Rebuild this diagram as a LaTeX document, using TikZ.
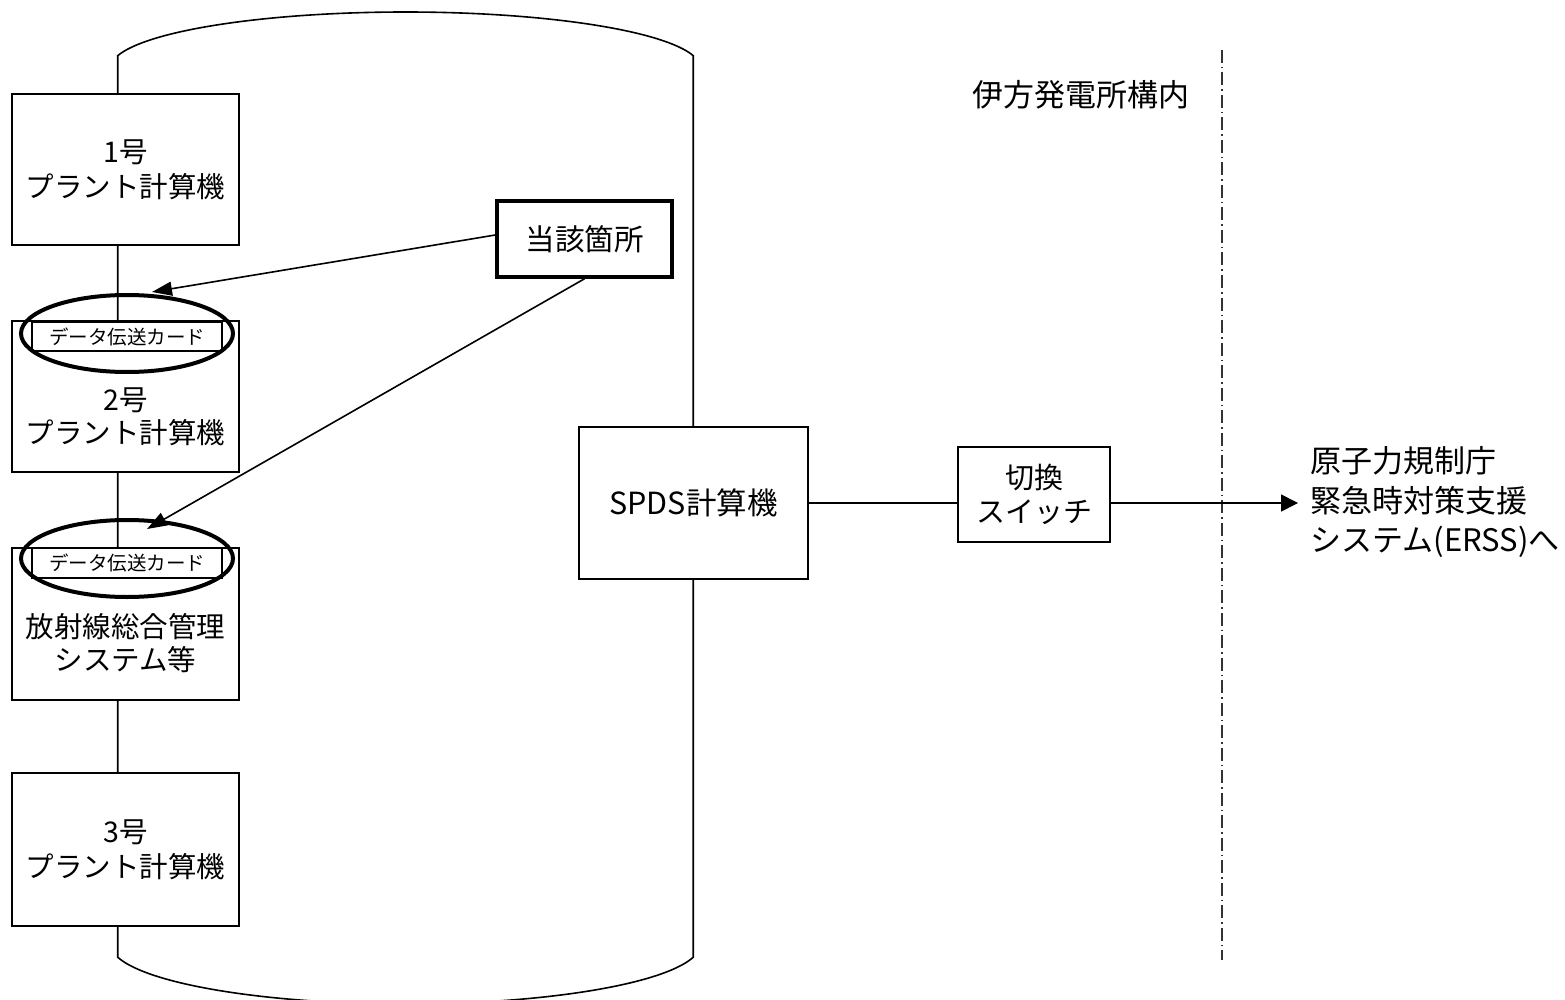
\documentclass[tikz,border=0pt]{standalone}
\usepackage{fontspec}
\setmainfont{Noto Sans CJK JP}
\usetikzlibrary{arrows.meta,shapes.geometric}
\begin{document}
\begin{tikzpicture}[x=1pt,y=-1pt,
  line width=1.6pt,
  box/.style={draw, fill=white, line width=1.6pt, minimum width=227pt, minimum height=151pt, inner sep=0pt, align=center, font=\fontsize{28.5}{35}\selectfont},
  boxtxt/.style={align=center, inner sep=0pt, font=\fontsize{28.5}{33}\selectfont},
  lbl/.style={inner sep=0pt, font=\fontsize{31}{39.5}\selectfont},
  card/.style={draw, fill=white, line width=1.4pt, minimum width=190pt, minimum height=29pt, inner sep=0pt, font=\fontsize{19.5}{22}\selectfont},
  ring/.style={draw, ellipse, line width=4pt, minimum width=212pt, minimum height=77pt, inner sep=0pt},
  tip/.style={-{Triangle[length=20pt,width=14pt]}},
  dashdot/.style={line width=1.1pt, draw=black!80, dash pattern=on 13pt off 4pt on 1.5pt off 4pt}]
\useasboundingbox (0,0) rectangle (1565,1000);
\fill[white] (0,0) rectangle (1565,1000);
\clip (0,0) rectangle (1565,1000);

% cylinder
\draw plot[domain=167.3:12.7,samples=90] ({405.5+295*cos(\x)},{68-56*sin(\x)})
  -- plot[domain=-12.7:-167.3,samples=90] ({405.5+295*cos(\x)},{944-60*sin(\x)}) -- cycle;

% plant boxes
\node[box] (b1) at (125.5,169.5) {1号\\プラント計算機};
\node[box] (b2) at (125.5,396.5) {};
\node[boxtxt] (t2) at (125.5,416.5) {2号\\プラント計算機};
\node[box, minimum height=152pt] (b3) at (125.5,624) {};
\node[boxtxt] (t3) at (125.5,643) {放射線総合管理\\システム等};
\node[box, minimum height=153pt] (b4) at (125.5,849.5) {3号\\プラント計算機};

% data transfer cards
\node[card] (c1) at (127,336.5) {データ伝送カード};
\node[card, minimum height=30pt] (c2) at (127,563) {データ伝送カード};
\node[ring] (e1) at (127,333.5) {};
\node[ring] (e2) at (127,558.5) {};

% target box
\node[draw, fill=white, line width=3.5pt, minimum width=175pt, minimum height=76pt, lbl, font=\fontsize{29.5}{35}\selectfont] (tg) at (584.5,239) {当該箇所};

% SPDS and switch
\node[draw, fill=white, line width=1.6pt, minimum width=229pt, minimum height=152pt, lbl, font=\fontsize{30.5}{34}\selectfont] (spds) at (693.5,503) {SPDS計算機};
\node[draw, fill=white, line width=1.6pt, minimum width=152pt, minimum height=95pt, inner sep=0pt, align=center, font=\fontsize{29}{34}\selectfont] (sw) at (1034,494.5) {切換\\スイッチ};

% labels
\node[lbl] (site) at (1081,95) {伊方発電所構内};
\node[lbl, anchor=west, align=left] (erss) at (1310,502.5) {原子力規制庁\\緊急時対策支援\\システム(ERSS)へ};

% boundary
\coordinate (d1) at (1222,50);
\coordinate (d2) at (1222,960);
\draw[dashdot] (d1) -- (d2);

% connectors
\coordinate (a1) at (152,292);
\coordinate (a2) at (147,529);
\draw[tip] ([yshift=4pt]tg.west) -- (a1);
\draw[tip] (tg.south) -- (a2);
\draw (spds.east) -- (spds.east -| sw.west);
\coordinate (out) at (1298,503);
\draw[-{Triangle[length=17pt,width=17pt]}] (sw.east |- spds.east) -- (out);
\end{tikzpicture}
\end{document}
